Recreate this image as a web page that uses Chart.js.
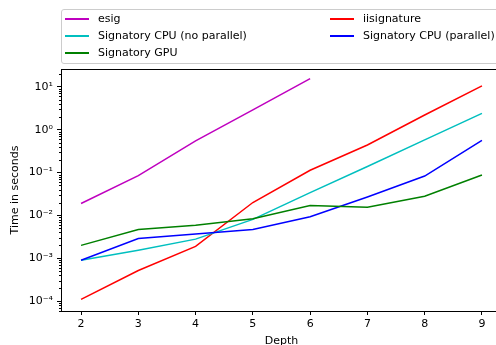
<!DOCTYPE html>
<html>
<head>
<meta charset="utf-8">
<script src="https://cdn.jsdelivr.net/npm/chart.js@4/dist/chart.umd.min.js"></script>
<style>
    html, body { margin: 0; padding: 0; background: #fff; overflow: hidden; }
    #wrap { position: relative; width: 496px; height: 345px; overflow: hidden; }
    #chart { position: absolute; left: 0; top: 0; }
    #legend {
        position: absolute; left: 61px; top: 9px; width: 460px;
        border: 1px solid #cccccc; border-radius: 3px; background: rgba(255,255,255,0.8);
        display: grid; grid-template-columns: 265px auto; grid-template-rows: repeat(3, 17px);
        grid-auto-flow: column; padding: 0 0 2px 3px;
        font-family: "DejaVu Sans", sans-serif; font-size: 11px; color: #000;
    }
    .item { display: flex; align-items: center; white-space: nowrap; }
    .swatch { width: 24px; height: 2px; margin-right: 9px; }
</style>
</head>
<body>
<div id="wrap">
    <canvas id="chart" width="502" height="345"></canvas>
    <div id="legend"></div>
</div>
<script>
// Depth values on the x axis
const depths = [2, 3, 4, 5, 6, 7, 8, 9];

// Timings in seconds
const esig = [0.019, 0.085, 0.55, 2.9, 15.5];
const iisignature = [0.00011, 0.00052, 0.0019, 0.020, 0.113, 0.44, 2.2, 10.5];
const cpuNoParallel = [0.0009, 0.00155, 0.0028, 0.0081, 0.034, 0.138, 0.58, 2.4];
const cpuParallel = [0.0009, 0.0029, 0.0037, 0.0047, 0.0093, 0.027, 0.083, 0.56];
const gpu = [0.002, 0.0047, 0.0059, 0.0084, 0.017, 0.0156, 0.028, 0.088];

const yTicks = [1e-4, 1e-3, 1e-2, 1e-1, 1e0, 1e1];
const xTicks = depths;

const supers = { '-': '\u207B', '0': '\u2070', '1': '\u00B9', '2': '\u00B2', '3': '\u00B3', '4': '\u2074',
    '5': '\u2075', '6': '\u2076', '7': '\u2077', '8': '\u2078', '9': '\u2079' };

function powLabel(v) {
    const e = Math.round(Math.log10(v)).toString();
    return '10' + e.split('').map(c => supers[c]).join('');
}

function toPoints(values) {
    return values.map((v, i) => ({ x: depths[i], y: v }));
}

// legend order follows matplotlib's column-first filling
const series = [
    { label: 'esig', data: esig, color: '#bf00bf' },
    { label: 'Signatory CPU (no parallel)', data: cpuNoParallel, color: '#00bfbf' },
    { label: 'Signatory GPU', data: gpu, color: '#008000' },
    { label: 'iisignature', data: iisignature, color: '#ff0000' },
    { label: 'Signatory CPU (parallel)', data: cpuParallel, color: '#0000ff' }
];

// draw order: esig, iisignature, cpu no parallel, cpu parallel, gpu
const drawOrder = ['esig', 'iisignature', 'Signatory CPU (no parallel)', 'Signatory CPU (parallel)', 'Signatory GPU'];

const datasets = series.map(s => ({
    label: s.label,
    data: toPoints(s.data),
    borderColor: s.color,
    backgroundColor: s.color,
    borderWidth: 1.5,
    pointRadius: 0,
    tension: 0,
    fill: false,
    order: drawOrder.length - drawOrder.indexOf(s.label)
}));

// Frame + minor log ticks
const framePlugin = {
    id: 'frame',
    afterDraw(chart) {
        const { ctx, chartArea } = chart;
        const y = chart.scales.y;
        ctx.save();
        ctx.strokeStyle = '#000';
        ctx.lineWidth = 1;
        ctx.strokeRect(chartArea.left + 0.5, chartArea.top + 0.5,
            chartArea.right - chartArea.left, chartArea.bottom - chartArea.top);
        for (let n = -5; n <= 1; n++) {
            for (let k = 2; k <= 9; k++) {
                const v = k * Math.pow(10, n);
                if (v < y.min || v > y.max) continue;
                const py = Math.round(y.getPixelForValue(v)) + 0.5;
                ctx.beginPath();
                ctx.moveTo(chartArea.left - 2, py);
                ctx.lineTo(chartArea.left, py);
                ctx.stroke();
            }
        }
        ctx.restore();
    }
};

const chart = new Chart(document.getElementById('chart'), {
    type: 'line',
    data: { datasets: datasets },
    options: {
        responsive: false,
        animation: false,
        layout: { padding: { left: 0, top: 69, right: 0, bottom: 0 } },
        plugins: {
            legend: { display: false },
            tooltip: { enabled: false }
        },
        scales: {
            x: {
                type: 'linear',
                min: 1.65,
                max: 9.35,
                afterBuildTicks: scale => { scale.ticks = xTicks.map(v => ({ value: v })); },
                afterFit: scale => { scale.height = 34; },
                grid: { drawOnChartArea: false, tickLength: 4, color: '#000', tickColor: '#000' },
                border: { color: '#000' },
                ticks: {
                    color: '#000', padding: 3, maxRotation: 0,
                    font: { family: 'DejaVu Sans', size: 11 }
                },
                title: {
                    display: true, text: 'Depth', color: '#000',
                    font: { family: 'DejaVu Sans', size: 11, lineHeight: 0.75 },
                    padding: { top: 0, bottom: 0 }
                }
            },
            y: {
                type: 'logarithmic',
                min: 5.9e-5,
                max: 26,
                afterBuildTicks: scale => { scale.ticks = yTicks.map(v => ({ value: v })); },
                afterFit: scale => { scale.width = 61; },
                grid: { drawOnChartArea: false, tickLength: 4, color: '#000', tickColor: '#000' },
                border: { color: '#000' },
                ticks: {
                    color: '#000', padding: 4,
                    font: { family: 'DejaVu Sans', size: 11 },
                    callback: v => powLabel(v)
                },
                title: {
                    display: true, text: 'Time in seconds', color: '#000',
                    font: { family: 'DejaVu Sans', size: 11 },
                    padding: { top: 9, bottom: 0 }
                }
            }
        }
    },
    plugins: [framePlugin]
});

// HTML legend built from the datasets
const legendEl = document.getElementById('legend');
chart.data.datasets.forEach(ds => {
    const item = document.createElement('div');
    item.className = 'item';
    const sw = document.createElement('span');
    sw.className = 'swatch';
    sw.style.background = ds.borderColor;
    const txt = document.createElement('span');
    txt.textContent = ds.label;
    item.appendChild(sw);
    item.appendChild(txt);
    legendEl.appendChild(item);
});
</script>
</body>
</html>
